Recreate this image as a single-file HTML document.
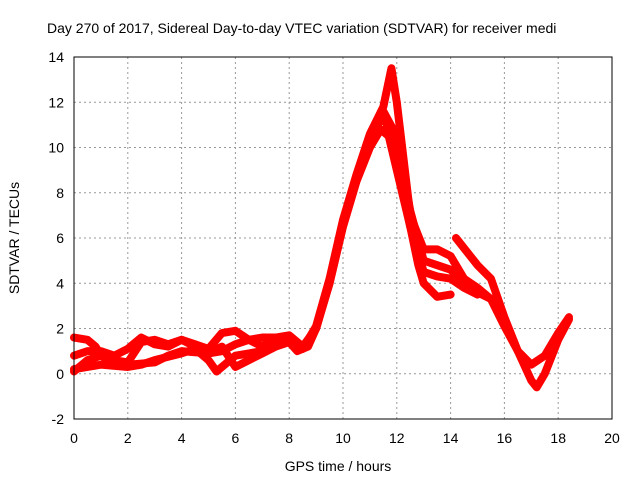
<!DOCTYPE html>
<html><head><meta charset="utf-8"><style>
body{margin:0;background:#fff;}
svg text{font-family:"Liberation Sans",sans-serif;font-size:14px;fill:#000;}
</style></head><body>
<svg id="c" width="640" height="480" xmlns="http://www.w3.org/2000/svg">
<text x="47" y="33">Day 270 of 2017, Sidereal Day-to-day VTEC variation (SDTVAR) for receiver medi</text>
<g id="grid"></g><g id="ticks"></g><g id="series"></g>
<rect x="74" y="57" width="538" height="362" fill="none" stroke="#000" stroke-width="1"/>
<text x="338" y="471" text-anchor="middle">GPS time / hours</text>
<text transform="translate(19,238) rotate(-90)" text-anchor="middle">SDTVAR / TECUs</text>
</svg>
<script>
const xTicks=[0,2,4,6,8,10,12,14,16,18,20];
const yTicks=[-2,0,2,4,6,8,10,12,14];
const t1x=[0,0.5,1,2,2.5,3,4,4.5,5,5.3,5.6,6,6.5,7,7.5,8,8.3,8.7,9,9.5,10,10.5,11,11.4,11.7,12,12.5,12.8,13,13.5,14];
const t1y=[0.2,0.3,0.4,0.3,0.4,0.6,0.9,1.1,0.6,0.1,0.4,0.8,0.9,1.0,1.3,1.4,1.0,1.2,2,4,6.5,8.5,10,10.8,10.5,9,6.5,4.8,4.0,3.4,3.5];
const t2x=[0,0.5,0.8,1,1.5,2,2.5,3,3.5,4,4.5,5,5.5,6,6.5,7,7.5,8,8.5,9,9.5,10,10.5,11,11.5,11.8,12,12.5,13,13.5,14,14.5,15,15.5,16,16.5,17,17.5,18,18.4];
const t2y=[1.6,1.5,1.2,0.8,0.6,0.5,1.4,1.5,1.3,1.5,1.2,0.9,1.0,1.3,1.5,1.6,1.6,1.5,1.1,2.1,4.2,6.8,8.8,10.6,11.8,13.5,12,7,5.5,5.5,5.2,4.2,3.8,3.3,2.1,1.0,0.4,0.8,1.8,2.5];
const t3x=[0,0.5,1,1.5,2,2.5,3,3.5,4,4.5,5,5.5,6,6.5,7,7.5,8,8.5,9,9.5,10,10.5,11,11.5,12,12.5,13,13.5,14,14.5,15,15.5];
const t3y=[0.8,1.0,1.0,0.8,1.1,1.6,1.3,1.2,1.5,1.3,1.1,1.8,1.9,1.5,1.2,1.6,1.7,1.2,2.0,4.1,6.6,8.7,10.5,11.6,10.5,7.2,5.0,4.8,4.6,4.0,3.6,3.3];
const t4x=[0,0.5,1,1.5,2,3,3.5,4,5,5.5,6,6.5,7,7.5,8,8.5,9,9.5,10,10.5,11,11.5,12,12.5,13,13.5,14,14.5,15];
const t4y=[0.1,0.6,0.8,0.4,0.4,0.5,0.8,1.0,0.9,1.2,0.3,0.6,0.9,1.2,1.4,1.1,2.0,4.0,6.6,8.6,10.3,11.5,9.5,6.5,4.5,4.3,4.2,3.8,3.5];
const t5x=[14.2,15,15.5,16,16.5,17,17.2,17.5,18,18.4];
const t5y=[6.0,4.8,4.2,2.5,1.0,-0.3,-0.6,0,1.5,2.4];
const X=v=>74+v*26.9, Y=v=>373.75-v*22.625;
const NS="http://www.w3.org/2000/svg";
const g=document.getElementById('grid'),tk=document.getElementById('ticks'),se=document.getElementById('series');
function mk(t,a,p){const e=document.createElementNS(NS,t);for(const k in a)e.setAttribute(k,a[k]);p.appendChild(e);return e;}
xTicks.forEach(v=>{
 if(v>0&&v<20){const l=mk('line',{x1:X(v),x2:X(v),y1:57,y2:419,stroke:'#999','stroke-dasharray':'2,3'},g);
 
 }
 const t=mk('text',{x:X(v),y:443,'text-anchor':'middle'},tk);t.textContent=v;
 
 
});
yTicks.forEach(v=>{
 if(v>-2&&v<14){const l=mk('line',{x1:74,x2:612,y1:Y(v),y2:Y(v),stroke:'#999','stroke-dasharray':'2,3'},g);
 
 }
 const t=mk('text',{x:64,y:Y(v)+5,'text-anchor':'end'},tk);t.textContent=v;
 
 
});
[[t1x,t1y],[t2x,t2y],[t3x,t3y],[t4x,t4y],[t5x,t5y]].forEach((s,i)=>{
 const pts=s[0].map((x,j)=>X(x)+','+Y(s[1][j])).join(' ');
 const p=mk('polyline',{points:pts,fill:'none',stroke:'#ff0000','stroke-width':8,'stroke-linejoin':'round','stroke-linecap':'round'},se);
 
 
});
</script>
</body></html>
